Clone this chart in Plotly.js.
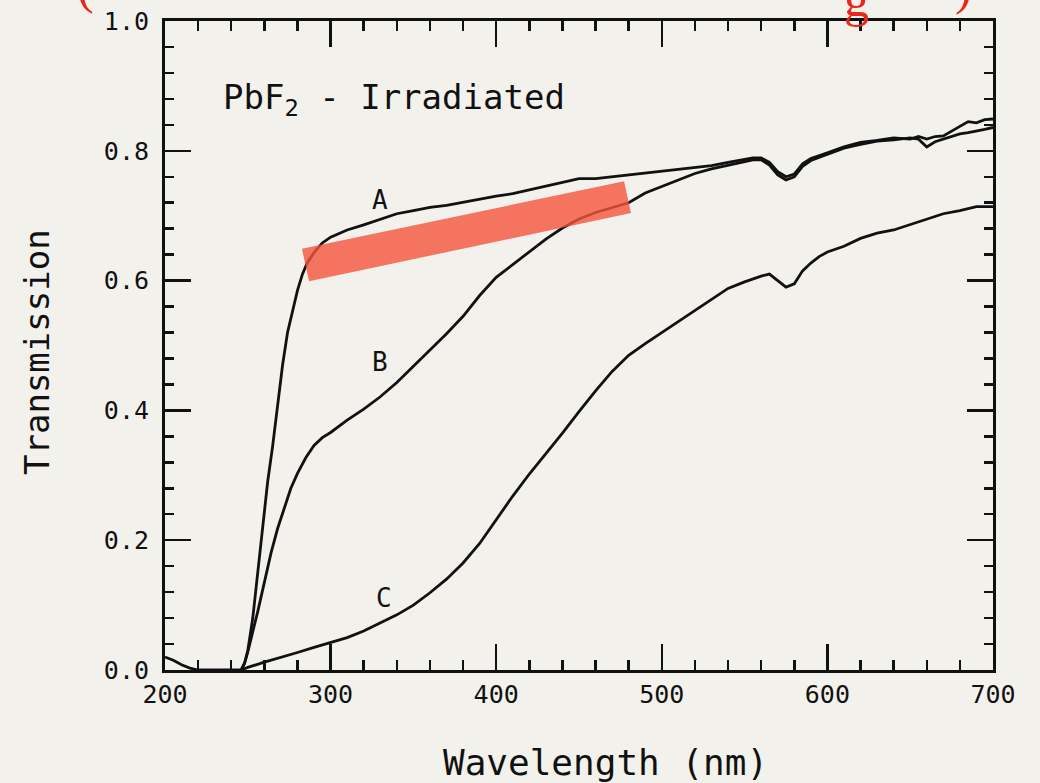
<!DOCTYPE html>
<html>
<head>
<meta charset="utf-8">
<script src="https://cdn.plot.ly/plotly-3.0.1.min.js"></script>
<style>html,body{margin:0;padding:0;background:#f3f1ec;}#chart{width:1040px;height:783px;}</style>
</head>
<body>
<div id="chart"></div>
<script>
// Curve A
const wavelengthA = [200,205,210,215,220,230,240,246,248,250,253,256,259,262,265,268,271,274,277,280,283,286,290,295,300,310,320,330,340,350,360,370,380,390,400,410,420,430,440,450,460,470,480,490,500,510,520,530,540,550,555,560,565,570,575,580,585,590,595,600,610,620,630,640,650,655,660,665,670,675,680,685,690,695,700];
const transmissionA = [0.02,0.015,0.008,0.003,0,0,0,0,0.01,0.03,0.08,0.15,0.21,0.29,0.345,0.41,0.47,0.52,0.555,0.585,0.61,0.628,0.643,0.658,0.667,0.678,0.686,0.694,0.703,0.708,0.713,0.716,0.721,0.726,0.73,0.734,0.74,0.745,0.751,0.757,0.757,0.76,0.763,0.765,0.768,0.771,0.775,0.777,0.782,0.787,0.789,0.789,0.782,0.768,0.76,0.764,0.78,0.788,0.792,0.797,0.806,0.813,0.816,0.82,0.818,0.822,0.818,0.822,0.823,0.83,0.838,0.845,0.843,0.848,0.849];
// Curve B
const wavelengthB = [246,248,250,253,256,260,264,268,272,276,280,285,290,295,300,310,320,330,340,350,360,370,380,390,400,410,420,430,440,450,460,470,480,490,500,510,520,530,540,550,555,560,565,570,575,580,585,590,595,600,610,620,630,640,650,655,660,665,670,675,680,685,690,695,700];
const transmissionB = [0,0.01,0.028,0.058,0.09,0.135,0.18,0.218,0.25,0.28,0.303,0.327,0.346,0.358,0.366,0.385,0.402,0.421,0.443,0.468,0.492,0.518,0.545,0.577,0.605,0.625,0.645,0.664,0.681,0.695,0.705,0.713,0.72,0.735,0.745,0.755,0.765,0.772,0.778,0.783,0.786,0.786,0.778,0.763,0.755,0.76,0.776,0.785,0.79,0.795,0.804,0.81,0.815,0.817,0.82,0.818,0.806,0.814,0.818,0.823,0.826,0.828,0.83,0.833,0.836];
// Curve C
const wavelengthC = [246,250,260,270,280,290,300,310,320,330,340,350,360,370,380,390,400,410,420,430,440,450,460,470,480,490,500,510,520,530,540,550,560,565,570,575,580,585,590,595,600,610,620,630,640,650,660,670,680,690,700];
const transmissionC = [0,0.004,0.012,0.019,0.027,0.035,0.042,0.05,0.06,0.072,0.085,0.1,0.119,0.14,0.165,0.195,0.232,0.268,0.302,0.333,0.365,0.398,0.43,0.46,0.485,0.503,0.52,0.538,0.555,0.572,0.588,0.598,0.607,0.61,0.6,0.59,0.595,0.615,0.627,0.637,0.644,0.653,0.665,0.673,0.678,0.686,0.695,0.703,0.708,0.714,0.714];

const curveLabels = ['A','B','C'];
const labelX = [330, 330, 332];
const labelY = [0.724, 0.474, 0.111];
const xTickVals = [200,300,400,500,600,700];
const yTickVals = [0,0.2,0.4,0.6,0.8,1.0];
const yTickText = ['0.0','0.2','0.4','0.6','0.8','1.0'];
const xTitle = 'Wavelength (nm)';
const yTitle = 'Transmission';
// highlight band (data coords)
const bandX = [282.7, 287.0, 481.4, 477.2];
const bandY = [0.649, 0.599, 0.704, 0.753];

const mono = 'DejaVu Sans Mono, monospace';
const ink = '#111';
const lineStyle = {color:ink, width:2.8};
const traces = [
  {x: wavelengthA, y: transmissionA, mode:'lines', line: lineStyle, hoverinfo:'skip'},
  {x: wavelengthB, y: transmissionB, mode:'lines', line: lineStyle, hoverinfo:'skip'},
  {x: wavelengthC, y: transmissionC, mode:'lines', line: lineStyle, hoverinfo:'skip'}
];

const annotations = curveLabels.map((t,i)=>({x: labelX[i], y: labelY[i], xref:'x', yref:'y', text:t, showarrow:false, font:{family:mono, size:26, color:ink}}));
annotations.push({x:234, y:0.879, xref:'x', yref:'y', xanchor:'left', text:'PbF<sub>2</sub> - Irradiated', showarrow:false, font:{family:mono, size:34, color:ink}});
// axis titles as annotations (placed like the reference)
annotations.push({xref:'paper', yref:'paper', x:(605-165)/828, y:-(762-670)/649, xanchor:'center', yanchor:'middle', text:xTitle, showarrow:false, font:{family:mono, size:36, color:ink}});
annotations.push({xref:'paper', yref:'paper', x:-(165-37)/828, y:(670-352)/649, xanchor:'center', yanchor:'middle', textangle:-90, text:yTitle, showarrow:false, font:{family:mono, size:34, color:ink}});
const redFont = {family:'Liberation Serif, serif', size:50, color:'#e8261a'};
const frag = [{t:'(', px:85, bottom:13},{t:'g', px:856, bottom:26},{t:')', px:963, bottom:14}];
frag.forEach(f=>{
  annotations.push({xref:'paper', yref:'paper', x:(f.px-165)/828, y:1+(21-f.bottom)/649, xanchor:'center', yanchor:'bottom', yshift:-3, text:f.t, showarrow:false, font:redFont});
});

const bandPath = 'M ' + bandX.map((v,i)=>v+','+bandY[i]).join(' L ') + ' Z';

const layout = {
  width:1040, height:783,
  paper_bgcolor:'#f3f1ec', plot_bgcolor:'#f3f1ec',
  margin:{l:165, r:47, t:21, b:113},
  showlegend:false,
  xaxis:{range:[200,700], tickvals:xTickVals, ticks:'inside', ticklen:26, tickwidth:2.5, tickcolor:ink,
    showline:true, linecolor:ink, linewidth:3, mirror:'allticks', showgrid:false, zeroline:false,
    tickfont:{family:mono, size:25, color:ink},
    minor:{dtick:20, tick0:200, ticks:'inside', ticklen:10, tickwidth:2.5, tickcolor:ink, showgrid:false}},
  yaxis:{range:[0,1], tickvals:yTickVals, ticktext:yTickText, ticks:'inside', ticklen:26, tickwidth:2.5, tickcolor:ink,
    showline:true, linecolor:ink, linewidth:3, mirror:'allticks', showgrid:false, zeroline:false,
    tickfont:{family:mono, size:25, color:ink}, ticklabelstandoff:8,
    minor:{dtick:0.04, tick0:0, ticks:'inside', ticklen:9, tickwidth:2.5, tickcolor:ink, showgrid:false}},
  shapes:[{type:'path', xref:'x', yref:'y', path:bandPath, fillcolor:'rgba(245,85,60,0.8)', line:{width:0}, layer:'above'}],
  annotations: annotations
};
Plotly.newPlot('chart', traces, layout, {staticPlot:true});
</script>
</body>
</html>
